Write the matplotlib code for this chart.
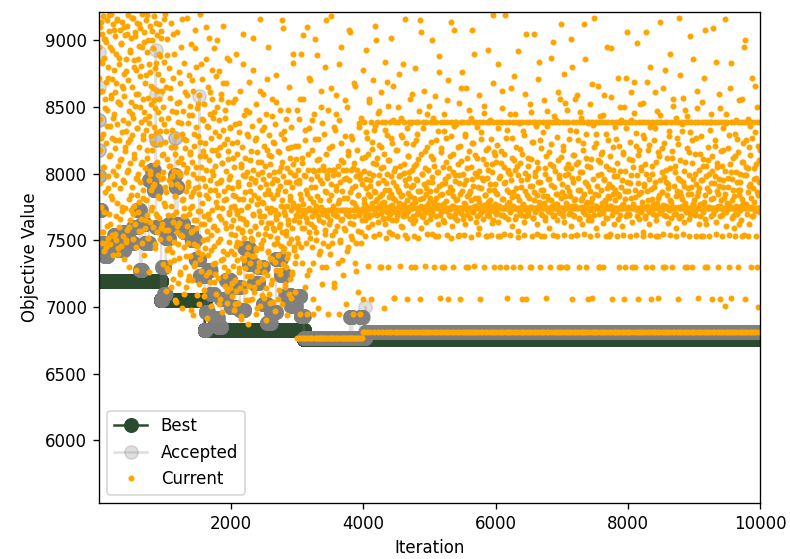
import numpy as np
import matplotlib
matplotlib.use("Agg")
import matplotlib.pyplot as plt

n_iter = 10000

# best objective: iteration where a new best was found, and its value
best_start = [1, 940, 1600, 3100]
best_level = [7195, 7055, 6830, 6760]

# accepted objective: iteration where the accepted solution changed, and its value
acc_start = [1, 2, 3, 5, 7, 10, 30, 90, 130, 230, 300, 380, 450, 520, 580,
             620, 650, 700, 760, 800, 830, 860, 861, 862, 864, 940, 955, 985,
             1010, 1060, 1150, 1152, 1160, 1190, 1280, 1400, 1460, 1520, 1521,
             1600, 1615, 1650, 1690, 1740, 1800, 1850, 1920, 1990, 2060, 2130,
             2200, 2270, 2340, 2410, 2480, 2540, 2600, 2680, 2750, 2820, 2900,
             2980, 3050, 3100, 3800, 3830, 3950, 3990, 4030, 4031]
acc_level = [8910, 8650, 8400, 8180, 7980, 7730, 7480, 7380, 7450, 7540, 7430,
             7560, 7480, 7600, 7730, 7280, 7620, 7480, 7950, 8030, 7880, 8600,
             8930, 8250, 7600, 7055, 7300, 7100, 7520, 7620, 8270, 7990, 7900,
             7620, 7560, 7500, 7360, 8580, 7230, 6830, 6960, 7280, 7100, 6920,
             6850, 7060, 7200, 7000, 7150, 6980, 7440, 7320, 7180, 7300, 7020,
             6880, 6960, 7360, 7240, 7090, 7010, 7080, 6930, 6770, 6925, 6770,
             6925, 6770, 7000, 6815]

# current objective, sampled through each block of 1000 iterations
cur_0 = [8950, 8720, 9100, 8410, 8180, 7990, 8840, 7750, 9050, 8620, 7480, 8300, 9180, 7560, 8050, 8870, 7420, 8560, 9010, 7860,
         8230, 7450, 8690, 9150, 7610, 8480, 7980, 8800, 7520, 9070, 8130, 7700, 8950, 8360, 7470, 8590, 9200, 7830, 8270, 7540,
         8710, 8020, 9120, 7390, 8450, 7920, 8780, 8610, 7550, 9030, 8190, 7680, 8900, 7500, 8370, 9160, 7780, 8540, 8060, 7440,
         8820, 7600, 8250, 9080, 7890, 8520, 7460, 8970, 8110, 7720, 8660, 9140, 7530, 8400, 7950, 8750, 7360, 8580, 9040, 8170,
         7740, 8860, 7490, 8320, 9110, 8010, 7580, 8700, 8240, 9190, 7810, 8470, 7300, 8930, 8080, 7650, 8540, 9020, 7730, 8290,
         8650, 7900, 9170, 7510, 8420, 8850, 7760, 8150, 9060, 7620, 8510, 7970, 8780, 7280, 8340, 9130, 7840, 8600, 8000, 7710,
         8960, 8200, 7570, 8730, 9090, 7940, 8390, 7660, 8810, 8090, 9200, 7480, 8560, 8260, 7820, 8990, 7390, 8460, 8040, 7590,
         8680, 9150, 7800, 8330, 7690, 8910, 8120, 7520, 8570, 9000, 7950, 8430, 7260, 8760, 8020, 9110, 7640, 8280, 7880, 8520,
         9070, 7750, 8180, 8640, 7600, 8940, 8350, 7920, 9180, 7470, 8490, 8070, 8830, 7700, 8310, 9040, 7560, 8620, 7990, 8750,
         7830, 8560, 9120, 7670, 8220, 8880, 7510, 8410, 7960, 9020, 8140, 7620, 8700, 7320, 8500, 8010, 9160, 7780, 8370, 7900]
cur_1 = [7580, 8240, 7120, 8650, 7860, 9010, 7430, 8110, 7690, 8420, 7280, 7950, 8790, 7520, 8060, 7340, 8570, 7760, 9130, 8200,
         7410, 7980, 8330, 7210, 8720, 7640, 8020, 7490, 8900, 7830, 8150, 7050, 8460, 7710, 8280, 7560, 9060, 7920, 8390, 7180,
         8010, 7630, 8540, 7370, 7900, 8680, 7260, 8120, 7540, 8950, 7800, 8300, 6990, 8470, 7680, 8070, 7450, 8830, 7740, 8190,
         7300, 8610, 7870, 8250, 7150, 9170, 7610, 8040, 7480, 8380, 7940, 8740, 7230, 7700, 8510, 7380, 8160, 7830, 8970, 7560,
         8090, 7200, 8440, 7760, 8000, 6940, 8620, 7470, 8210, 7650, 9080, 7890, 7330, 8350, 7590, 8800, 7090, 7970, 8490, 7410,
         7720, 8280, 7020, 8590, 7850, 8130, 7360, 9200, 7620, 8050, 7270, 8410, 7780, 8710, 7500, 7960, 8170, 7130, 8520, 7680,
         8230, 7440, 7910, 8860, 7240, 8030, 7570, 8360, 6920, 7820, 8650, 7390, 8100, 7660, 9020, 7190, 8450, 7880, 8270, 7540,
         7010, 8180, 7730, 8560, 7320, 7990, 8420, 7610, 8940, 7460, 8060, 7250, 8310, 7790, 8730, 7100, 7930, 8500, 7580, 8140,
         7840, 7220, 8400, 7680, 8770, 7060, 8200, 7510, 7950, 8600, 7350, 8080, 6960, 7740, 8330, 9110, 7420, 7870, 8220, 7300,
         8480, 7630, 7160, 8020, 7810, 8680, 7400, 8260, 7030, 7900, 8540, 7270, 8110, 7700, 8850, 7490, 7980, 8350, 7140, 7750]
cur_2 = [7420, 7890, 7080, 8230, 7650, 7310, 8540, 7760, 6980, 8050, 7540, 7200, 8370, 7830, 7460, 8900, 7120, 7700, 8150, 7350,
         7940, 7030, 7590, 8310, 7260, 7810, 8620, 7140, 7480, 8070, 7730, 6910, 8200, 7580, 7370, 7990, 9050, 7660, 7180, 8440,
         7520, 8120, 7290, 7860, 7050, 8480, 7620, 7400, 8010, 7750, 6870, 8280, 7450, 7920, 7160, 8690, 7570, 7330, 8100, 7800,
         7230, 7970, 8360, 7500, 7060, 8030, 7690, 8780, 7380, 7840, 7110, 8250, 7610, 7940, 6950, 8520, 7430, 7770, 8160, 7270,
         8000, 7550, 7190, 8400, 7720, 7340, 9160, 7900, 7010, 8090, 7640, 7440, 8330, 7790, 7210, 7960, 8600, 7500, 7070, 8210,
         7680, 7320, 8060, 7850, 6900, 8450, 7590, 7240, 8180, 7740, 7420, 8950, 7880, 7100, 7990, 8290, 7530, 7370, 8070, 7710,
         7170, 8130, 7630, 7930, 7360, 8560, 7820, 7040, 8240, 7580, 7470, 8010, 7730, 6970, 8370, 7660, 7280, 8740, 7950, 7520,
         7850, 7390, 8170, 7700, 7130, 8020, 7600, 8480, 7250, 7910, 7460, 8300, 7760, 7020, 8090, 7560, 9090, 7320, 7980, 7750,
         7440, 8260, 7690, 7150, 7870, 8410, 7540, 7300, 8040, 7760, 6940, 8190, 7620, 7400, 7940, 8650, 7480, 7210, 7800, 8120,
         7730, 7070, 8350, 7590, 7900, 7260, 8070, 7780, 8830, 7430, 7650, 7990, 7110, 8210, 7750, 7380, 7940, 7690, 8480, 7520]
cur_3 = [6770, 7730, 8030, 7480, 6770, 7950, 8410, 7680, 6950, 7850, 8900, 7730, 6770, 7330, 8120, 7590, 6770, 7770, 8560, 7990,
         6770, 7700, 7150, 8250, 7730, 6770, 7880, 7480, 9100, 7640, 6950, 8030, 7730, 6770, 8340, 7560, 7280, 6770, 7820, 8700,
         7730, 6770, 7960, 7450, 8180, 6770, 7680, 7330, 8030, 6950, 7730, 8450, 7600, 6770, 7900, 9010, 7500, 6770, 7760, 8100,
         6770, 7980, 7730, 6990, 8260, 6770, 7650, 8030, 7420, 6770, 7800, 8620, 7730, 6770, 7170, 7930, 8380, 6770, 7480, 7700,
         8030, 6770, 7730, 7550, 8800, 6770, 7860, 7300, 8150, 6770, 7680, 7970, 6950, 7730, 8480, 6770, 7620, 8030, 7400, 6770,
         7730, 9180, 6770, 7840, 7480, 8210, 6770, 7700, 7990, 6770, 7150, 8030, 7730, 6770, 8330, 7570, 6770, 7910, 8590, 7680,
         6770, 7730, 8060, 7330, 6770, 7800, 8400, 6950, 7730, 7490, 6770, 8100, 7650, 8950, 6770, 7870, 7730, 7240, 6770, 8030,
         7960, 6770, 7730, 8280, 7580, 6770, 7700, 8030, 7020, 6770, 7820, 8500, 7730, 6770, 7450, 8170, 6770, 7950, 7680, 9060,
         6770, 7730, 7530, 8030, 6770, 7890, 8260, 6770, 7620, 7730, 6950, 8080, 6770, 7780, 7330, 8660, 6770, 7730, 7980, 7480,
         6770, 8030, 7730, 7110, 6770, 7840, 8350, 6770, 7690, 7730, 6950, 8000, 6770, 7560, 8420, 6770, 7730, 7920, 7060, 6815]
cur_4 = [7742, 8390, 7810, 6815, 7688, 8125, 7530, 7755, 8930, 7962, 7700, 6815, 8265, 7740, 7305, 7848, 8540, 7671, 8005, 7740,
         7905, 6815, 7740, 8390, 7058, 7776, 8188, 7625, 8702, 7740, 7990, 7530, 8330, 6815, 7712, 7865, 9110, 7740, 8072, 7795,
         8390, 7690, 7740, 8455, 7930, 6815, 7548, 7760, 8215, 7835, 7300, 7740, 8610, 7705, 8040, 6815, 7780, 8390, 7660, 7955,
         7740, 8150, 6990, 7725, 8840, 7880, 8390, 6815, 7750, 7515, 8290, 7740, 7995, 7665, 7300, 8505, 7822, 6815, 7740, 8100,
         7695, 8390, 7740, 9020, 7845, 6815, 8230, 7766, 7545, 7940, 7740, 8660, 7070, 7715, 8020, 6815, 7805, 8390, 7740, 7650,
         8180, 7740, 7530, 6815, 7880, 8390, 7702, 8745, 7985, 7740, 7305, 8060, 6815, 7758, 8420, 7835, 7740, 7600, 8275, 7680,
         7740, 6815, 8005, 7771, 8390, 7540, 9160, 7740, 7690, 7912, 6815, 8340, 7060, 7740, 7855, 8135, 7720, 8390, 6815, 7965,
         7830, 7740, 8560, 7300, 7745, 6815, 8025, 7740, 8390, 7682, 7915, 8225, 7530, 6815, 7740, 8790, 7790, 7655, 8390, 8070,
         6815, 7740, 7950, 8300, 7710, 7520, 8390, 7740, 8470, 6815, 7870, 7062, 7740, 8145, 7760, 9060, 6815, 7740, 7998, 7675,
         8390, 7820, 7740, 6815, 8620, 7705, 7305, 8040, 7740, 7890, 6815, 8390, 7548, 7768, 8200, 7740, 7940, 6815, 8510, 7730]
cur_5 = [7740, 7868, 6815, 8390, 7692, 8240, 7740, 9000, 7545, 7975, 6815, 7740, 8110, 7756, 7300, 8390, 8580, 7740, 6815, 7820,
         7680, 8390, 7740, 8010, 6815, 7766, 8320, 7530, 7740, 8880, 7905, 7065, 6815, 7740, 8160, 7712, 8390, 7845, 7740, 6815,
         8050, 7740, 7650, 8390, 7300, 8450, 6815, 7740, 7930, 7795, 8270, 7740, 7540, 6815, 8390, 7985, 7740, 8705, 7690, 7860,
         6815, 7740, 8130, 7735, 8390, 7515, 9140, 7740, 7880, 6815, 8015, 7760, 7300, 7740, 8360, 6815, 7670, 8390, 7945, 7740,
         7805, 8390, 7740, 6815, 7718, 8200, 7530, 7740, 8530, 7990, 6815, 7062, 7740, 7850, 8390, 7702, 8095, 6815, 7740, 8760,
         7740, 7660, 8390, 6815, 7920, 7540, 8285, 7740, 7775, 8640, 6815, 7740, 7300, 8045, 8390, 7830, 7740, 6815, 7690, 8170,
         8390, 7740, 6815, 7868, 7725, 8415, 7740, 7525, 9080, 6815, 7960, 7740, 8230, 7752, 8390, 7305, 6815, 7740, 8005, 7815,
         7740, 6815, 8390, 7680, 8120, 7740, 7545, 7900, 6815, 8590, 7740, 7790, 8390, 7060, 7740, 8310, 6815, 7712, 7970, 7740,
         6815, 7955, 7740, 8390, 7765, 7300, 8455, 7740, 6815, 7840, 8070, 7740, 7530, 8390, 6815, 7690, 8930, 7740, 8190, 7880,
         7740, 8390, 6815, 7805, 7720, 8260, 7740, 7540, 8015, 6815, 7740, 8680, 7655, 8390, 7300, 7740, 6815, 7925, 8140, 7770]
cur_6 = [7855, 7740, 6815, 8390, 7705, 8215, 7530, 7740, 8820, 6815, 7965, 7758, 8390, 7300, 7740, 8080, 6815, 7690, 8495, 7740,
         8390, 7740, 7810, 6815, 8150, 7740, 7545, 9190, 7675, 7935, 6815, 8390, 7740, 8330, 7065, 7770, 6815, 7740, 8025, 7860,
         7740, 6815, 8390, 7998, 7715, 7540, 8640, 7740, 6815, 7825, 8270, 7740, 7300, 8390, 7760, 6815, 7740, 8105, 7660, 8445,
         7740, 7890, 8390, 6815, 7735, 8055, 7740, 7525, 6815, 8920, 7740, 7800, 8390, 7300, 8185, 7740, 6815, 7690, 7950, 7740,
         6815, 8390, 7740, 7765, 8320, 7540, 7740, 6815, 8005, 7680, 8600, 7740, 7060, 8390, 7840, 6815, 7740, 8120, 7712, 7985,
         7740, 8390, 6815, 7905, 7740, 7300, 8465, 7750, 6815, 7740, 8235, 7530, 8390, 7670, 7740, 9050, 6815, 7865, 8010, 7740,
         8390, 7740, 6815, 7725, 8090, 7740, 7545, 7940, 6815, 8710, 7740, 7790, 8390, 7300, 7740, 8250, 6815, 7700, 7880, 7740,
         7740, 6815, 8390, 7830, 7760, 8555, 7740, 7530, 6815, 8040, 7740, 7675, 8390, 7065, 7740, 8355, 6815, 7740, 7960, 7810,
         6815, 7740, 8390, 8165, 7715, 7300, 7740, 8870, 6815, 7915, 7740, 7755, 8390, 7540, 7740, 8060, 6815, 7690, 8430, 7740,
         7740, 8390, 7845, 6815, 7740, 8275, 7530, 7770, 6815, 7740, 8615, 7990, 8390, 7300, 7740, 6815, 7705, 8125, 7740, 9120]
cur_7 = [7740, 7920, 6815, 8390, 7685, 8210, 7540, 7740, 8750, 7835, 6815, 7740, 8040, 7300, 8390, 7762, 8480, 6815, 7740, 7995,
         8390, 6815, 7740, 7870, 7720, 7740, 8325, 7530, 9010, 6815, 7965, 7740, 7060, 8140, 7690, 8390, 7800, 7740, 6815, 8560,
         7740, 7755, 8070, 6815, 8390, 7540, 8590, 7740, 7880, 8250, 6815, 7740, 7665, 7300, 8015, 7740, 8390, 8420, 6815, 7805,
         6815, 7740, 7820, 8390, 7710, 8180, 7545, 6815, 7740, 8860, 7935, 7740, 8295, 7300, 6815, 7770, 8390, 7740, 8060, 7650,
         7905, 7740, 8390, 6815, 7680, 8520, 7740, 7530, 7790, 8110, 7740, 6815, 7065, 8390, 8365, 7740, 7725, 9170, 6815, 7740,
         7740, 7850, 6815, 8230, 8390, 7760, 7540, 7740, 6815, 7990, 8660, 7740, 7300, 7695, 8390, 7740, 6815, 8085, 7875, 7740,
         8145, 6815, 7740, 8390, 7705, 7300, 8440, 7740, 7960, 6815, 7780, 7740, 8390, 7530, 8300, 6815, 7740, 7670, 8950, 7830,
         7740, 8390, 7815, 6815, 8035, 7740, 7545, 7755, 8575, 7740, 6815, 7900, 8390, 7060, 7740, 8200, 7715, 6815, 7740, 7980,
         6815, 7880, 7740, 8390, 7730, 8260, 6815, 7530, 7740, 8720, 7845, 7740, 8390, 6815, 7300, 8020, 7740, 7690, 8400, 7740,
         7740, 8390, 7955, 7765, 6815, 8160, 7740, 7540, 8500, 6815, 7740, 7810, 7300, 8390, 7740, 8345, 7680, 6815, 7740, 9060]
cur_8 = [7870, 6815, 7740, 8390, 7700, 7740, 8240, 7530, 6815, 8610, 7990, 7740, 8390, 7300, 8100, 7740, 7760, 6815, 8455, 7740,
         7740, 8390, 7825, 7740, 6815, 8305, 7540, 7685, 8980, 7740, 6815, 7930, 7060, 8390, 7740, 8175, 7720, 7740, 6815, 7860,
         8050, 7740, 6815, 8390, 7755, 7530, 8530, 7740, 7905, 6815, 8270, 7740, 8390, 7670, 7300, 7740, 7995, 6815, 8690, 7740,
         7740, 7800, 8390, 6815, 7715, 8215, 7740, 7540, 8800, 7885, 7740, 6815, 8390, 7300, 8060, 7740, 7770, 8380, 6815, 7740,
         6815, 7940, 7740, 8345, 8390, 7690, 7530, 7740, 6815, 8470, 7815, 7740, 7065, 8390, 8135, 6815, 7740, 7705, 9140, 7740,
         7740, 8390, 7860, 6815, 8195, 7740, 7545, 7765, 8640, 7740, 6815, 7975, 8390, 7300, 7740, 8030, 7680, 6815, 7740, 7840,
         8390, 7920, 7740, 6815, 7725, 8280, 7740, 7540, 8900, 6815, 7790, 7740, 8390, 7300, 8115, 7740, 6815, 7750, 8510, 7740,
         7740, 6815, 8010, 8390, 7740, 7530, 7700, 8420, 7870, 7740, 6815, 8225, 7060, 8390, 7740, 7665, 6815, 7955, 7740, 8740,
         7835, 7740, 6815, 8390, 7760, 8320, 7545, 7740, 8570, 6815, 7910, 7740, 8390, 7300, 8090, 7740, 7715, 6815, 8430, 7740,
         7740, 8390, 6815, 7895, 8160, 7740, 7530, 7690, 9030, 7740, 6815, 7850, 8390, 7300, 7740, 8250, 6815, 7775, 7960, 7740]
cur_9 = [6815, 7740, 8000, 8390, 7705, 7530, 8270, 7740, 6815, 8620, 7830, 7740, 8390, 7070, 7740, 7890, 6815, 8150, 7680, 7740,
         7740, 7950, 6815, 8390, 7760, 8540, 7740, 7530, 8060, 6815, 7740, 7790, 7300, 8390, 9080, 7740, 7620, 6815, 7980, 7740,
         8390, 7740, 8100, 6815, 7750, 7870, 7740, 7530, 8330, 7740, 6815, 8450, 7810, 8390, 7060, 7740, 8020, 6815, 7740, 7695,
         7740, 6815, 7930, 8390, 7725, 8210, 7740, 8840, 7545, 6815, 7740, 8050, 7850, 8390, 7300, 6815, 7740, 7960, 7680, 8490,
         7760, 7740, 8390, 6815, 8060, 7530, 7740, 7900, 6815, 8180, 7740, 7820, 8390, 7010, 7740, 9160, 6815, 7715, 8380, 7740,
         7740, 8390, 6815, 7970, 7740, 8290, 7540, 7765, 6815, 8640, 7740, 8010, 7070, 8390, 7740, 7800, 6815, 7680, 7880, 7740,
         6815, 7740, 8390, 8130, 7700, 7530, 7740, 8400, 6815, 7940, 7740, 8260, 8390, 7300, 7740, 7840, 6815, 7620, 8000, 7740,
         7740, 7880, 8390, 6815, 7760, 8560, 7740, 7530, 8090, 6815, 7780, 7740, 8390, 8950, 7740, 7060, 6815, 7990, 7740, 8250,
         8390, 7740, 6815, 8040, 7750, 7530, 8200, 7740, 7910, 6815, 7740, 8360, 8390, 7820, 7300, 7740, 6815, 8720, 7680, 7740,
         7740, 6815, 8390, 7960, 7720, 8310, 7740, 7530, 6815, 8070, 7740, 8500, 7860, 8390, 7740, 7000, 6815, 7940, 7740, 8180]

# further current samples, taken between the ones above
cur_0b = [8610, 7930, 9140, 8270, 7560, 8830, 8050, 9010, 7710, 8490, 8990, 7480, 8360, 8720, 7890, 9190, 8140, 7620, 8570, 8930,
          7810, 8420, 9080, 7530, 8250, 8680, 7990, 9150, 7400, 8540, 8870, 8100, 7660, 8980, 8310, 7750, 8640, 9100, 7940, 8200,
          7500, 8770, 9050, 8030, 8380, 7600, 8910, 8260, 7840, 9170, 8450, 7700, 8800, 8120, 9030, 7450, 8600, 7960, 8340, 8860,
          9120, 7790, 8500, 8070, 7570, 8950, 8290, 7880, 9060, 8410, 7650, 8740, 8180, 9190, 7520, 8380, 8820, 8000, 7730, 8660,
          9000, 8230, 7910, 8550, 7440, 8790, 9130, 8090, 7680, 8460, 8900, 7820, 8320, 9070, 7590, 8620, 8150, 7970, 8840, 9200]
cur_1b = [7760, 8320, 7290, 8890, 7580, 8060, 7440, 8640, 7920, 7150, 8470, 7690, 9050, 7350, 8200, 7830, 7040, 8530, 7610, 8090,
          7470, 8760, 7250, 7990, 8380, 7530, 9160, 7810, 7100, 8260, 7680, 8010, 7380, 8590, 7910, 7200, 8440, 7740, 8150, 6980,
          8700, 7570, 7860, 8300, 7310, 8940, 7650, 8050, 7460, 8520, 7900, 7170, 8240, 7720, 8820, 7400, 7970, 8400, 7620, 7080,
          8130, 7840, 9100, 7510, 8350, 7700, 7260, 8610, 7950, 7430, 8020, 8780, 7600, 7190, 8460, 7880, 7330, 8180, 7750, 9000,
          7490, 8280, 7020, 7940, 8560, 7660, 8080, 7360, 8680, 7800, 7230, 8420, 7590, 8870, 7120, 8170, 7710, 7960, 8340, 7550]
cur_2b = [7610, 7180, 8120, 7840, 7400, 8560, 7020, 7730, 8240, 7490, 7910, 7290, 8380, 7670, 6930, 8050, 7560, 7810, 8820, 7350,
          7120, 7980, 7640, 8300, 7230, 7760, 8460, 7050, 7870, 7520, 8170, 7380, 7700, 9020, 7150, 7950, 7600, 8270, 7440, 6990,
          7820, 8090, 7310, 7680, 8620, 7470, 7090, 8010, 7780, 7260, 8350, 7550, 7920, 7140, 8710, 7630, 7410, 8140, 7850, 7030,
          7740, 8430, 7200, 7590, 7960, 8230, 7340, 7690, 8540, 7480, 7060, 7880, 8160, 7620, 7280, 8050, 7800, 9150, 7420, 7710,
          8320, 7170, 7570, 7940, 7370, 8480, 7650, 7100, 8010, 7830, 7510, 8200, 7250, 7760, 8900, 7450, 7990, 7330, 8110, 7680]
cur_3b = [7760, 8210, 7640, 7930, 8560, 7450, 7810, 8080, 7700, 9040, 7590, 7980, 8330, 7670, 7240, 7850, 8150, 7740, 8720, 7520,
          7900, 7620, 8400, 7790, 7060, 8020, 7710, 8260, 7560, 8890, 7830, 7680, 8110, 7400, 7950, 8500, 7750, 7300, 8060, 7640,
          8300, 7870, 7580, 9150, 7720, 7990, 7460, 8190, 7800, 7650, 8640, 7920, 7540, 8030, 7760, 7180, 8350, 7690, 7880, 8450,
          7610, 8000, 7780, 8820, 7500, 7940, 8230, 7660, 7350, 8090, 7820, 7590, 8550, 7730, 7970, 7420, 8140, 7700, 9080, 7860,
          7630, 8280, 7790, 7510, 8040, 7680, 8680, 7910, 7270, 7750, 8180, 7570, 7840, 8380, 7710, 7960, 7480, 8120, 7650, 8780]
cur_4b = [7780, 8020, 7655, 8310, 7890, 7720, 8150, 7600, 8560, 7830, 7950, 7690, 8240, 7760, 8080, 7530, 7870, 8360, 7700, 9000,
          8120, 7810, 7640, 7990, 8470, 7740, 7300, 8200, 7850, 7670, 8050, 7790, 8330, 7620, 7930, 8690, 7710, 8100, 7880, 7560,
          7760, 8270, 7980, 7650, 8400, 7820, 7070, 8040, 7730, 7910, 8180, 7680, 8500, 7860, 7780, 7990, 8290, 7610, 7840, 8820,
          7720, 8070, 7950, 7690, 8230, 7800, 7520, 8130, 7750, 8010, 7660, 8380, 7900, 7770, 8600, 7630, 8060, 7820, 7300, 7960,
          8250, 7700, 7870, 8110, 7740, 9150, 7810, 7590, 8000, 7680, 8340, 7920, 7750, 8170, 7640, 7850, 8450, 7710, 8030, 7790]
cur_5b = [7820, 7660, 8130, 7940, 7710, 8420, 7790, 8060, 7530, 7880, 8250, 7750, 7620, 8010, 8760, 7840, 7690, 8190, 7920, 7300,
          7770, 8320, 7640, 7960, 8090, 7720, 8550, 7860, 7060, 8040, 7680, 7900, 8280, 7760, 7610, 8150, 7830, 9080, 7990, 7700,
          8370, 7810, 7650, 8070, 7930, 7540, 8210, 7740, 8640, 7870, 7690, 8000, 7780, 8300, 7620, 7950, 8120, 7730, 7300, 8480,
          7850, 7670, 8050, 7800, 8230, 7710, 7910, 8900, 7760, 8140, 7640, 7980, 8350, 7820, 7590, 8020, 7700, 8260, 7890, 7750,
          8110, 7660, 8510, 7840, 7730, 8180, 7970, 7530, 8030, 7790, 7680, 8400, 7920, 7760, 8070, 7630, 9190, 7880, 8160, 7710]
cur_6b = [7700, 8090, 7850, 7640, 8340, 7760, 7980, 7530, 8170, 7810, 8620, 7690, 7930, 8050, 7740, 7300, 8270, 7880, 7660, 8010,
          7790, 8450, 7720, 7950, 8120, 7610, 7860, 8730, 7750, 8030, 7680, 8200, 7830, 7570, 7990, 8380, 7710, 8080, 7900, 7060,
          8150, 7770, 7640, 8290, 7870, 9050, 7730, 7960, 8060, 7690, 7820, 8520, 7750, 7300, 8110, 7910, 7670, 8240, 7800, 7980,
          7710, 8360, 7840, 7620, 8040, 7760, 8840, 7940, 7530, 8190, 7690, 7880, 8310, 7780, 8000, 7650, 8130, 7830, 8470, 7720,
          7960, 7590, 8070, 7800, 8220, 7740, 7680, 8990, 7900, 8020, 7770, 8400, 7650, 7850, 8100, 7710, 7970, 8560, 7820, 7300]
cur_7b = [7860, 7720, 8180, 7640, 7990, 8530, 7780, 7900, 7300, 8070, 7700, 8260, 7830, 7610, 8040, 7760, 8800, 7940, 7680, 8140,
          7810, 7540, 8320, 7740, 7970, 8090, 7660, 8460, 7880, 7750, 8010, 7620, 8230, 7850, 9120, 7700, 7930, 8120, 7790, 7060,
          8380, 7730, 7870, 8050, 7650, 8670, 7820, 7960, 8200, 7690, 7760, 8300, 7590, 7910, 8100, 7840, 7300, 8430, 7710, 8000,
          7780, 8160, 7630, 7950, 8590, 7800, 7670, 8060, 7890, 7740, 8250, 7530, 7920, 8130, 7760, 8940, 7690, 8030, 7850, 7620,
          8350, 7800, 7720, 8080, 7980, 7660, 8210, 7830, 8500, 7750, 7900, 7610, 8150, 7770, 7060, 8020, 7870, 8720, 7700, 7940]
cur_8b = [7750, 8110, 7690, 7930, 8400, 7820, 7640, 8050, 7770, 8690, 7880, 7300, 8210, 7730, 7990, 8140, 7660, 7850, 8520, 7710,
          8030, 7790, 7560, 8290, 7920, 7680, 8070, 9060, 7760, 7870, 8180, 7620, 7960, 8350, 7740, 7060, 8000, 7810, 7700, 8250,
          7900, 8610, 7650, 8090, 7780, 7530, 8160, 7840, 7950, 8440, 7720, 8010, 7860, 7300, 8230, 7690, 8780, 7940, 7760, 8120,
          7630, 7890, 8320, 7800, 8040, 7670, 8170, 7740, 8560, 7910, 7700, 8060, 7830, 7590, 8270, 7970, 7750, 9170, 7860, 8100,
          7680, 8370, 7810, 7940, 7640, 8020, 7780, 8480, 7730, 7300, 8190, 7850, 7660, 7990, 8310, 7720, 7900, 8080, 7770, 8860]
cur_9b = [7800, 7690, 8150, 7920, 7740, 8490, 7860, 7620, 8030, 7770, 8280, 7530, 7950, 8110, 7710, 8720, 7840, 7660, 8060, 7890,
          7300, 8200, 7750, 8000, 8390, 7680, 7930, 8130, 7820, 9090, 7730, 7980, 8250, 7640, 7870, 8080, 7760, 8600, 7910, 7060,
          8170, 7800, 7690, 8340, 7950, 7720, 8020, 7850, 8450, 7610, 7780, 8190, 7900, 7300, 8070, 7740, 8830, 7960, 7670, 8120,
          7830, 7590, 8300, 7760, 8010, 7700, 8160, 7880, 8550, 7730, 7940, 7650, 8090, 7810, 8230, 7540, 7990, 9000, 7770, 8050,
          7700, 8410, 7860, 7620, 8140, 7920, 7750, 8270, 7680, 7890, 8040, 7790, 8660, 7730, 7970, 7300, 8210, 7840, 8100, 7710]

cur_blocks = [cur_0, cur_1, cur_2, cur_3, cur_4, cur_5, cur_6, cur_7, cur_8, cur_9]
cur_blocks_b = [cur_0b, cur_1b, cur_2b, cur_3b, cur_4b, cur_5b, cur_6b, cur_7b, cur_8b, cur_9b]


def expand(starts, levels, n):
    # stretch a piecewise-constant series to one value per iteration
    dur = np.diff(np.append(starts, n + 1))
    return np.repeat(levels, dur)


iters = np.arange(1, n_iter + 1)
best = expand(best_start, best_level, n_iter)
accepted = expand(acc_start, acc_level, n_iter)

cur_x = []
cur_y = []
for k in range(len(cur_blocks)):
    for blk, shift in [(cur_blocks[k], 0), (cur_blocks_b[k], 3)]:
        cur_x.append(np.linspace(k * 1000 + 1, (k + 1) * 1000, len(blk), endpoint=False) + shift)
        cur_y.append(np.array(blk))
cur_x = np.concatenate(cur_x)
cur_y = np.concatenate(cur_y)

fig = plt.figure(figsize=(790 / 120, 559 / 120), dpi=120)
ax = fig.add_axes([0.1253, 0.1002, 0.8367, 0.8784])

ax.plot(iters, best, 'o-', color='#2c4a2e', ms=8, label='Best')
ax.plot(iters, accepted, 'o-', color='grey', alpha=0.25, ms=8, label='Accepted')
ax.plot(cur_x, cur_y, 'o', ls='none', color='orange', ms=2.6, label='Current')

ax.set_xlim(1, n_iter)
ax.set_ylim(5530, 9212)
ax.set_xlabel('Iteration')
ax.set_ylabel('Objective Value')
ax.legend(loc='lower left')

fig.savefig('out.png', dpi=120)
